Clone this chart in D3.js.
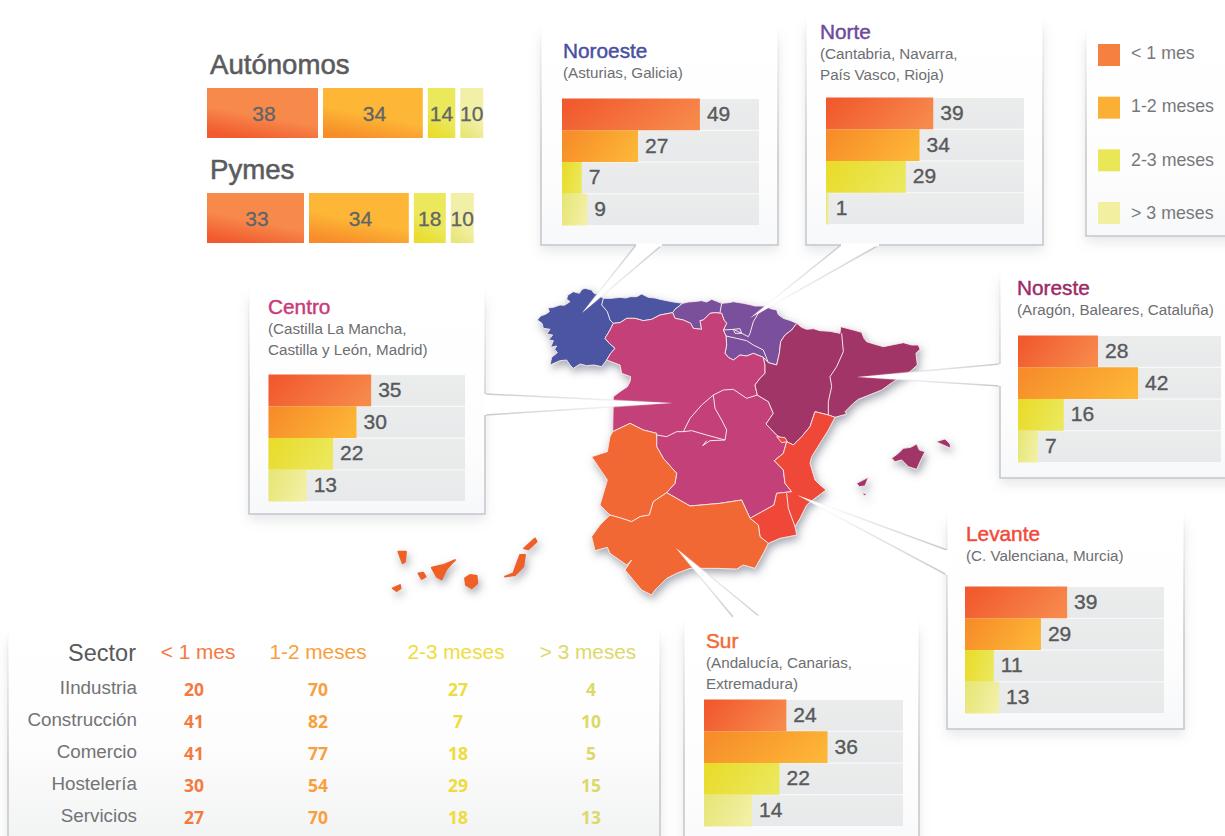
<!DOCTYPE html>
<html lang="es"><head><meta charset="utf-8">
<style>html,body{margin:0;padding:0;background:#fff;overflow:hidden}svg{display:block}text{font-family:"Liberation Sans",Arial,sans-serif}</style>
<script src="https://cdn.jsdelivr.net/npm/d3@7/dist/d3.min.js"></script></head><body>
<svg id="c" width="1225" height="836"></svg>
<script>
/* ---------- data ---------- */
const durations = ["< 1 mes","1-2 meses","2-3 meses","> 3 meses"];
const autonomos = [38,34,14,10];
const pymes = [33,34,18,10];
const noroesteValues = [49,27,7,9];
const norteValues = [39,34,29,1];
const centroValues = [35,30,22,13];
const noresteValues = [28,42,16,7];
const levanteValues = [39,29,11,13];
const surValues = [24,36,22,14];
const sectors = ["IIndustria","Construcción","Comercio","Hostelería","Servicios"];
const sectorLt1 = [20,41,41,30,27];
const sector12 = [70,82,77,54,70];
const sector23 = [27,7,18,29,18];
const sectorGt3 = [4,10,5,15,13];

/* map outlines, in map units */
const galiciaAsturias = [[52,150],[62,138],[78,132],[88,125],[84,114],[100,112],[120,105],[133,106],[150,95],[140,88],[143,76],[160,65],[178,70],[186,58],[195,55],[215,60],[222,70],[230,72],[250,85],[275,85],[300,82],[318,84],[330,80],[350,80],[365,72],[385,82],[405,84],[420,88],[455,95],[488,100],[465,118],[458,128],[420,135],[395,148],[370,152],[345,145],[320,145],[300,158],[280,160],[270,180],[255,205],[268,220],[285,235],[272,250],[260,270],[245,290],[222,285],[200,287],[180,282],[160,295],[150,285],[140,270],[120,272],[90,285],[95,262],[112,248],[104,238],[110,228],[92,232],[100,212],[86,210],[98,195],[80,192],[90,178],[70,175],[66,160]];
const norteShape = [[488,100],[505,96],[520,95],[545,92],[560,96],[575,88],[590,94],[605,100],[625,98],[640,95],[670,100],[690,104],[705,108],[735,108],[752,116],[770,120],[775,134],[790,145],[812,152],[830,160],[815,180],[795,195],[782,215],[778,250],[770,285],[745,278],[730,262],[700,250],[680,258],[660,255],[640,270],[625,262],[615,250],[620,225],[618,198],[610,180],[620,160],[612,150],[605,130],[585,128],[570,130],[550,150],[540,152],[545,178],[520,175],[512,160],[490,150],[465,145],[458,128],[465,118]];
const centroShape = [[280,160],[300,158],[320,145],[345,145],[370,152],[395,148],[420,135],[458,128],[465,145],[490,150],[512,160],[520,175],[545,178],[540,152],[550,150],[570,130],[585,128],[605,130],[612,150],[620,160],[610,180],[618,198],[620,225],[615,250],[625,262],[640,270],[660,255],[680,258],[700,250],[730,262],[735,285],[735,310],[720,325],[705,345],[712,375],[745,395],[760,430],[738,462],[770,495],[800,515],[790,550],[763,572],[790,600],[795,640],[815,665],[770,670],[762,705],[690,745],[665,690],[600,700],[510,708],[440,668],[465,640],[470,610],[430,565],[410,530],[410,490],[370,480],[330,460],[278,485],[280,380],[300,365],[322,350],[330,335],[332,320],[305,310],[300,285],[260,270],[272,250],[285,235],[268,220],[255,205],[270,180]];
const noresteShape = [[830,160],[845,172],[860,178],[880,176],[900,182],[930,184],[960,190],[962,170],[1000,180],[1025,187],[1032,205],[1040,215],[1062,222],[1090,230],[1120,224],[1150,218],[1175,225],[1195,225],[1200,238],[1188,250],[1192,285],[1170,305],[1145,320],[1120,335],[1085,360],[1040,378],[1015,388],[1000,400],[975,425],[980,432],[945,442],[925,435],[885,425],[870,470],[845,500],[820,525],[800,515],[770,495],[738,462],[760,430],[745,395],[712,375],[705,345],[720,325],[735,310],[735,285],[730,262],[745,278],[770,285],[778,250],[782,215],[795,195],[815,180]];
const mallorca = [[1115,565],[1135,550],[1150,535],[1172,532],[1190,522],[1198,540],[1215,545],[1205,565],[1190,598],[1165,590],[1145,570],[1125,575]];
const menorca = [[1248,515],[1275,507],[1290,522],[1292,535],[1270,525]];
const ibiza = [[1010,640],[1045,622],[1035,648],[1018,650]];
const formentera = [[1027,668],[1042,672],[1032,677]];
const levanteShape = [[885,425],[925,435],[945,442],[925,480],[900,520],[875,560],[870,580],[885,630],[900,645],[918,660],[885,685],[860,705],[840,745],[825,770],[830,795],[780,805],[745,820],[720,800],[715,765],[690,745],[762,705],[770,670],[815,665],[795,640],[790,600],[763,572],[790,550],[800,515],[820,525],[845,500],[870,470]];
const ademuz = [[770,500],[795,503],[802,515],[785,518]];
const extremadura = [[278,485],[330,460],[370,480],[410,490],[410,530],[430,565],[470,610],[465,640],[440,668],[400,695],[388,735],[360,740],[335,755],[305,745],[270,735],[240,705],[262,630],[235,590],[215,560],[262,545],[270,500]];
const andalucia = [[440,668],[510,708],[600,700],[665,690],[690,745],[715,765],[720,800],[745,820],[730,850],[705,895],[670,885],[650,897],[590,895],[510,895],[470,910],[440,925],[405,960],[395,975],[365,960],[340,930],[315,900],[335,870],[320,885],[270,850],[262,832],[225,842],[215,800],[240,765],[270,735],[305,745],[335,755],[360,740],[388,735],[400,695]];
const canaries = [
 [[-365,845],[-342,845],[-345,875],[-352,880]],
 [[-382,955],[-360,945],[-358,955],[-370,963]],
 [[-305,910],[-290,908],[-283,920],[-295,927]],
 [[-265,893],[-230,885],[-195,870],[-205,880],[-222,900],[-235,928],[-250,920]],
 [[-165,925],[-150,915],[-130,918],[-128,940],[-145,955],[-162,945]],
 [[-45,920],[-20,910],[0,855],[15,855],[10,890],[-15,915]],
 [[12,835],[45,805],[50,815],[25,838]]
];
const innerBorders = [
 [[250,85],[245,105],[262,125],[270,150],[280,160]],
 [[605,100],[600,128]],
 [[610,180],[640,178],[665,190],[685,200],[690,190],[700,155],[715,130],[745,112]],
 [[618,198],[650,205],[680,212],[700,225],[730,240],[745,278]],
 [[640,178],[660,176],[665,190],[645,190],[640,178]],
 [[965,190],[970,245],[950,290],[930,320],[935,350],[925,395],[925,435]],
 [[410,495],[440,500],[470,485],[490,485],[510,445],[545,405],[580,375],[610,360],[640,358],[680,385],[712,375]],
 [[580,375],[585,415],[605,450],[620,480],[615,510],[570,512],[548,527],[560,512]],
 [[490,485],[515,482],[560,495],[615,510]],
 [[800,670],[805,715],[825,770]]
];

/* ---------- layout ---------- */
const svg = d3.select("#c");
const defs = svg.append("defs");
const mapX = d3.scaleLinear().domain([0,1350]).range([520,970]);
const mapY = d3.scaleLinear().domain([0,1020]).range([270,610]);
const mapLine = d3.line().x(d=>mapX(d[0])).y(d=>mapY(d[1]));

function grad(id,stops,x1,y1,x2,y2){
  const g=defs.append("linearGradient").attr("id",id).attr("x1",x1).attr("y1",y1).attr("x2",x2).attr("y2",y2);
  stops.forEach(s=>g.append("stop").attr("offset",s[0]).attr("stop-color",s[1]));
}
const barGrads=[["#f15a2e","#f7894b"],["#f68d2a","#fdb636"],["#e9dc2c","#ebe85c"],["#e7e678","#f2f0a6"]];
barGrads.forEach((c,i)=>{
  grad("h"+i,[[0,c[0]],[1,c[1]]],0,0.35,1,0.65);
  grad("v"+i,[[0,c[1]],[0.55,c[1]],[1,c[0]]],0.7,0,0.3,1);
});
grad("cardFill",[[0,"#ffffff"],[0.7,"#fdfdfe"],[1,"#f7f8f9"]],0,0,0,1);
grad("tableFill",[[0,"#ffffff"],[0.5,"#fdfdfd"],[1,"#f0f1f2"]],0,0,0,1);
grad("rowFill",[[0,"#ebecec"],[1,"#e8e9ea"]],0,0,0,1);
const f=defs.append("filter").attr("id","soft").attr("x","-15%").attr("y","-15%").attr("width","130%").attr("height","130%");
f.append("feGaussianBlur").attr("stdDeviation",6);
const mf=defs.append("filter").attr("id","mapShadow").attr("x","-10%").attr("y","-10%").attr("width","120%").attr("height","120%");
mf.append("feDropShadow").attr("dx",2).attr("dy",4).attr("stdDeviation",4.5).attr("flood-color","#5a5f70").attr("flood-opacity",0.55);

const cards=[
 {name:"Noroeste",sub:["(Asturias, Galicia)"],color:"#494f9f",x:541,y:25,r:778,b:245,wedge:[[636,245],[582,313],[662,245]],tx:563,ty:58,bx:562,by:99,bw:197,max:70,vals:noroesteValues},
 {name:"Norte",sub:["(Cantabria, Navarra,","País Vasco, Rioja)"],color:"#6e4a9c",x:806,y:14,r:1043,b:245,wedge:[[841,245],[750,318],[879,245]],tx:820,ty:39,bx:826,by:98,bw:198,max:72,vals:norteValues},
 {name:"Centro",sub:["(Castilla La Mancha,","Castilla y León, Madrid)"],color:"#c93a7a",x:249,y:286,r:485,b:514,wedge:[[485,394],[673,403],[485,415]],tx:268,ty:314,bx:268.5,by:375,bw:196.5,max:67,vals:centroValues},
 {name:"Noreste",sub:["(Aragón, Baleares, Cataluña)"],color:"#9c2b66",x:1000,y:268,r:1240,b:478,wedge:[[1000,364],[857,377],[1000,386]],tx:1017,ty:295,bx:1018,by:336,bw:203,max:71,vals:noresteValues},
 {name:"Levante",sub:["(C. Valenciana, Murcia)"],color:"#f1493a",x:947,y:510,r:1184,b:729,wedge:[[947,550],[797,495],[947,575]],tx:966,ty:541,bx:965,by:587,bw:199,max:76,vals:levanteValues},
 {name:"Sur",sub:["(Andalucía, Canarias,","Extremadura)"],color:"#f26a35",x:684,y:617,r:919,b:860,wedge:[[733,617],[676,548],[760,617]],tx:706,ty:648,bx:704,by:700,bw:199,max:58,vals:surValues}
];
const legendBox={x:1086,y:26,r:1240,b:236};
const tableBox={x:8,y:626,r:660,b:860};

/* card shadows go under the map */
const shadows=svg.append("g").attr("filter","url(#soft)").attr("fill","#8e939c").attr("fill-opacity",0.22);
[...cards,legendBox,tableBox].forEach(c=>shadows.append("rect").attr("x",c.x).attr("y",c.y+14).attr("width",c.r-c.x).attr("height",c.b-c.y-8));

/* map */
const map=svg.append("g").attr("filter","url(#mapShadow)");
const regionFills=[
 [galiciaAsturias,"#4c55a1"],[norteShape,"#7a4f9b"],[centroShape,"#c33f78"],
 [noresteShape,"#a23668"],[mallorca,"#a23668"],[menorca,"#a23668"],[ibiza,"#a23668"],[formentera,"#a23668"],
 [levanteShape,"#ef4638"],[ademuz,"#ef4638"],[extremadura,"#f26735"],[andalucia,"#f26735"]
];
regionFills.forEach(r=>map.append("path").attr("d",mapLine(r[0])+"Z").attr("fill",r[1]).attr("stroke","#f6e9ea").attr("stroke-width",0.9).attr("stroke-linejoin","round"));
canaries.forEach(s=>map.append("path").attr("d",mapLine(s)+"Z").attr("fill","#ee6027").attr("stroke","#ee6027").attr("stroke-width",1.8).attr("stroke-linejoin","round"));
innerBorders.forEach(s=>map.append("path").attr("d",mapLine(s)).attr("fill","none").attr("stroke","#f6e9ea").attr("stroke-width",1));

/* cards */
const rowNames=durations;
function outlineGrad(id,c){
  const g=defs.append("linearGradient").attr("id",id).attr("gradientUnits","userSpaceOnUse")
    .attr("x1",0).attr("y1",c.y).attr("x2",0).attr("y2",Math.min(c.b,c.y+ (c.b-c.y)*0.6));
  g.append("stop").attr("offset",0).attr("stop-color","#c6c9ce").attr("stop-opacity",0);
  g.append("stop").attr("offset",1).attr("stop-color","#c6c9ce").attr("stop-opacity",1);
}
function frame(c,i){
  const g=svg.append("g");
  outlineGrad("ol"+i,c);
  g.append("rect").attr("x",c.x).attr("y",c.y).attr("width",c.r-c.x).attr("height",c.b-c.y).attr("fill",c.fillId||"url(#cardFill)").attr("stroke","url(#ol"+i+")").attr("stroke-width",1.6);
  if(c.wedge){
    const [a,t,z]=c.wedge;
    g.append("path").attr("d",d3.line()(c.wedge)).attr("fill","#fff");
    [a,z].forEach((p,j)=>{
      const id="we"+i+"_"+j;
      const lg=defs.append("linearGradient").attr("id",id).attr("gradientUnits","userSpaceOnUse").attr("x1",p[0]).attr("y1",p[1]).attr("x2",t[0]).attr("y2",t[1]);
      lg.append("stop").attr("offset",0).attr("stop-color","#c6c9ce");
      lg.append("stop").attr("offset",0.6).attr("stop-color","#d8dadd").attr("stop-opacity",0.5);
      lg.append("stop").attr("offset",1).attr("stop-color","#fff").attr("stop-opacity",0);
      g.append("line").attr("x1",p[0]).attr("y1",p[1]).attr("x2",t[0]).attr("y2",t[1]).attr("stroke","url(#"+id+")").attr("stroke-width",1.5);
    });
    g.append("line").attr("x1",a[0]).attr("y1",a[1]).attr("x2",z[0]).attr("y2",z[1]).attr("stroke","#fff").attr("stroke-width",3);
  }
  return g;
}
cards.forEach((c,i)=>{
  const g=frame(c,i);
  g.append("text").attr("x",c.tx).attr("y",c.ty).attr("font-size",20.8).attr("fill",c.color).attr("stroke",c.color).attr("stroke-width",0.45).text(c.name);
  c.sub.forEach((s,k)=>g.append("text").attr("x",c.tx).attr("y",c.ty+20+k*21).attr("font-size",15.2).attr("fill","#6d6e71").text(s));
  const y=d3.scaleBand().domain(rowNames).range([c.by,c.by+126]).paddingInner(0.03);
  const x=d3.scaleLinear().domain([0,c.max]).range([0,c.bw]);
  g.selectAll(".row").data(rowNames).join("rect").attr("x",c.bx).attr("y",d=>y(d)).attr("width",c.bw).attr("height",y.bandwidth()).attr("fill","url(#rowFill)");
  g.selectAll(".bar").data(c.vals).join("rect").attr("x",c.bx).attr("y",(d,j)=>y(rowNames[j])-0.5).attr("width",d=>x(d)).attr("height",y.bandwidth()+1).attr("fill",(d,j)=>"url(#h"+j+")");
  g.selectAll(".val").data(c.vals).join("text").attr("x",d=>c.bx+x(d)+7).attr("y",(d,j)=>y(rowNames[j])+y.bandwidth()/2+6.5).attr("font-size",21).attr("fill","#58595b").attr("stroke","#58595b").attr("stroke-width",0.35).text(d=>d);
});

/* top stacked strips */
const stripScale=d3.scaleLinear().domain([0,10,18,33,38]).range([0,23,32,97,111]); // the strip lengths in the source are not proportional
function strip(title,vals,titleY,barY){
  svg.append("text").attr("x",210).attr("y",titleY).attr("font-size",27.6).attr("fill","#5a5b5e").attr("stroke","#5a5b5e").attr("stroke-width",0.55).text(title);
  let x0=207;
  vals.forEach((v,i)=>{
    const w=stripScale(v);
    svg.append("rect").attr("x",x0).attr("y",barY).attr("width",w).attr("height",50).attr("fill","url(#v"+i+")");
    svg.append("text").attr("x",x0+w/2+(i<2?1.5:0)).attr("y",barY+33).attr("text-anchor","middle").attr("font-size",21).attr("fill","#636468").attr("stroke","#636468").attr("stroke-width",0.3).text(v);
    x0+=w+5;
  });
}
strip("Autónomos",autonomos,74,88);
strip("Pymes",pymes,179,193);

/* legend */
const lg=frame({x:legendBox.x,y:legendBox.y,r:legendBox.r,b:legendBox.b},10);
const legendY=d3.scalePoint().domain(durations).range([44,202]);
const legendTextY=d3.scalePoint().domain(durations).range([59,219]);
const legendColors=["#f6803f","#fbb035","#e9e657","#f2f0a0"];
durations.forEach((d,i)=>{
  lg.append("rect").attr("x",1098).attr("y",legendY(d)).attr("width",22).attr("height",22).attr("fill",legendColors[i]);
  lg.append("text").attr("x",1131).attr("y",legendTextY(d)).attr("font-size",17.8).attr("fill","#77787b").text(d);
});

/* sector table */
const tg=frame({x:tableBox.x,y:tableBox.y,r:tableBox.r,b:tableBox.b,fillId:"url(#tableFill)"},11);
const colX=[194,318,458,591], headX=[198,318,456,588];
const headColors=["#f47a42","#f9a03e","#efdc3c","#dcd96a"];
const columns=[sectorLt1,sector12,sector23,sectorGt3];
const rowY=d3.scalePoint().domain(sectors).range([694,822]);
tg.append("text").attr("x",136).attr("y",661).attr("text-anchor","end").attr("font-size",23.5).attr("fill","#58595b").text("Sector");
durations.forEach((d,i)=>{
  tg.append("text").attr("x",headX[i]).attr("y",659).attr("text-anchor","middle").attr("font-size",20.8).attr("fill",headColors[i]).text(d);
  columns[i].forEach((v,j)=>{
    tg.append("text").attr("x",colX[i]).attr("y",rowY(sectors[j])+2).attr("text-anchor","middle")
      .style("font-family",'"Open Sans",sans-serif').attr("font-weight",700).attr("font-size",17.5).attr("fill",headColors[i]).text(v);
  });
});
sectors.forEach(s=>tg.append("text").attr("x",137).attr("y",rowY(s)).attr("text-anchor","end").attr("font-size",18.8).attr("fill","#727376").text(s));
</script></body></html>
